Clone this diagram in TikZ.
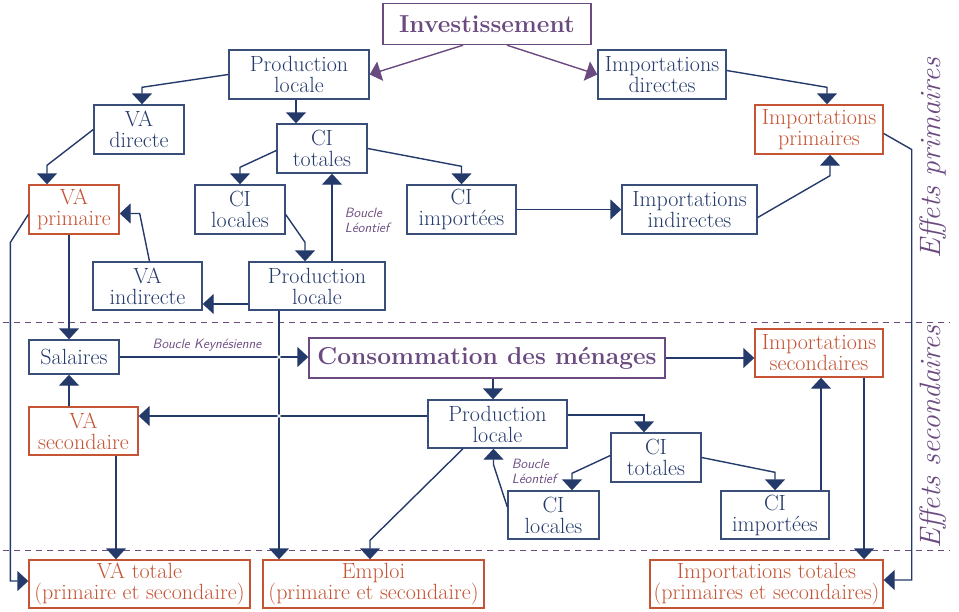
\documentclass[tikz,border=0pt]{standalone}
\usepackage{tikz}
\usetikzlibrary{positioning,arrows.meta}
\definecolor{effnavy}{RGB}{36,58,107}
\definecolor{effpurple}{RGB}{107,74,128}
\definecolor{efforange}{RGB}{196,84,52}

\begin{document}
\begin{tikzpicture}[x=1pt,y=-1pt,
  box/.style={draw=effnavy!90, line width=1.4pt, fill=white, align=center,
              inner sep=0pt, text=effnavy, minimum height=49pt,
              font=\fontsize{22}{21}\selectfont},
  prim/.style={box, draw=efforange, text=efforange},
  key/.style={box, draw=effpurple, text=effpurple, minimum height=41pt,
              font=\fontsize{24.5}{24}\selectfont\bfseries},
  arr/.style={-{Triangle[width=20pt,length=11pt]}, line width=1.4pt, effnavy},
  parr/.style={arr, effpurple},
  lbl/.style={font=\fontsize{13.5}{15}\selectfont\sffamily\itshape,
              text=effpurple, align=left, inner sep=0pt},
  side/.style={font=\fontsize{29.5}{30}\selectfont\itshape, text=effpurple,
               rotate=90, inner sep=0pt},
  sep/.style={effpurple, line width=1pt, dash pattern=on 6pt off 5pt}
]
\useasboundingbox (0,0) rectangle (959,611);

% separations
\draw[sep] (3,322) -- (950,322);
\draw[sep] (3,550) -- (950,550);
\node[side] (effA) at (933,158) {Effets primaires};
\node[side] (effB) at (933,437) {Effets secondaires};

% effets primaires
\node[key, minimum width=208pt] (inv)    at (487,24)    {Investissement};
\node[box, minimum width=140pt] (prodA)  at (299,74.5)  {Production\\locale};
\node[box, minimum width=128pt] (impdir) at (662,74.5)  {Importations\\directes};
\node[box, minimum width=90pt]  (vadir)  at (139,129.5) {VA\\directe};
\node[box, minimum width=90pt]  (citotA) at (322,148.5) {CI\\totales};
\node[prim, minimum width=128pt] (impprim) at (819,129.5) {Importations\\primaires};
\node[prim, minimum width=90pt] (vaprim) at (74,209.5)  {VA\\primaire};
\node[box, minimum width=90pt]  (cilocA) at (240,209.5) {CI\\locales};
\node[box, minimum width=109pt] (ciimpA) at (461.5,209.5) {CI\\importées};
\node[box, minimum width=135pt] (impind) at (689.5,209.5) {Importations\\indirectes};
\node[box, minimum width=109pt, minimum height=48pt] (vaind) at (147.5,286) {VA\\indirecte};
\node[box, minimum width=136pt, minimum height=48pt] (prodB) at (317,286) {Production\\locale};

% effets secondaires
\node[box, minimum width=90pt, minimum height=34pt] (salaires) at (74,357) {Salaires};
\node[key, minimum width=356pt, minimum height=40pt] (conso) at (487,358) {Consommation des ménages};
\node[prim, minimum width=128pt, minimum height=48pt] (impsec) at (819,353) {Importations\\secondaires};
\node[prim, minimum width=109pt, minimum height=48pt] (vasec) at (83.5,431) {VA\\secondaire};
\node[box, minimum width=139pt, minimum height=48pt] (prodC) at (497.5,424) {Production\\locale};
\node[box, minimum width=90pt]  (citotC) at (656,457.5) {CI\\totales};
\node[box, minimum width=91pt, minimum height=48pt]  (cilocC) at (553.5,515) {CI\\locales};
\node[box, minimum width=108pt, minimum height=48pt] (ciimpC) at (775,515) {CI\\importées};

% totaux
\node[prim, minimum width=221pt, minimum height=48pt] (vatot)  at (139.5,584) {VA totale\\(primaire et secondaire)};
\node[prim, minimum width=221pt, minimum height=48pt] (emploi) at (373.5,584) {Emploi\\(primaire et secondaire)};
\node[prim, minimum width=233pt, minimum height=48pt] (imptot) at (766.5,584) {Importations totales\\(primaires et secondaires)};

% connecteurs, effets primaires
\draw[parr] ([xshift=-24pt]inv.south) -- (prodA.east);
\draw[parr] ([xshift=20pt]inv.south) -- (impdir.west);
\draw[arr] (prodA.west) -- ([xshift=3pt,yshift=17pt]vadir.north) -- ([xshift=3pt]vadir.north);
\draw[arr] ([xshift=-3pt]prodA.south) -- ([xshift=-3pt]prodA.south |- citotA.north);
\draw[arr] ([yshift=4pt]impdir.east) -- ([xshift=8pt,yshift=17pt]impprim.north) -- ([xshift=8pt]impprim.north);
\draw[arr] (vadir.west) -- ([xshift=-27pt,yshift=19pt]vaprim.north) -- ([xshift=-27pt]vaprim.north);
\draw[arr] ([yshift=-2pt]citotA.west) -- ([yshift=17pt]cilocA.north) -- (cilocA.north);
\draw[arr] (citotA.east) -- ([yshift=18pt]ciimpA.north) -- (ciimpA.north);
\draw[arr] ([yshift=-5pt]cilocA.east) -- ([xshift=-12pt,yshift=19pt]prodB.north) -- ([xshift=-12pt]prodB.north);
\draw[arr] ([xshift=15pt]prodB.north) -- ([xshift=15pt]prodB.north |- citotA.south);
\draw[arr] (ciimpA.east) -- (impind.west);
\draw[arr] ([yshift=-8pt]impind.east) -- ([xshift=11pt,yshift=-21pt]impprim.south) -- ([xshift=11pt]impprim.south);
\draw[arr] ([yshift=-18pt]prodB.west) -- ([yshift=-18pt]vaind.east);
\draw[arr] ([xshift=2pt]vaind.north) -- ([xshift=20pt,yshift=-4pt]vaprim.east) -- ([yshift=-4pt]vaprim.east);
\draw[arr] ([xshift=-5pt]vaprim.south) -- ([xshift=-5pt]salaires.north);
\draw[arr] ([yshift=-5pt]vaprim.west) -- ([xshift=-18pt,yshift=-33pt]vaprim.west) |- ([yshift=3pt]vatot.west);
\draw[arr] ([xshift=-38pt]prodB.south) -- ([xshift=-38pt]prodB.south |- emploi.north);
\draw[arr] ([yshift=-4pt]impprim.east) -- ([xshift=28pt,yshift=-20pt]impprim.east) |- ([yshift=4pt]imptot.east);
\node[lbl] (leoA) at (367,220) {Boucle\\Léontief};

% connecteurs, effets secondaires
\draw[arr] (salaires.east) -- (salaires.east -| conso.west);
\node[lbl] (keyn) at (207,345) {Boucle Keynésienne};
\draw[arr] ([xshift=-14.5pt]vasec.north) -- ([xshift=-5pt]salaires.south);
\draw[arr] ([yshift=8pt]prodC.west) -- ([yshift=8pt]prodC.west -| vasec.east);
\draw[arr] ([xshift=32.5pt]vasec.south) -- ([xshift=32.5pt]vasec.south |- vatot.north);
\draw[arr] ([xshift=6pt]conso.south) -- ([xshift=6pt]conso.south |- prodC.north);
\draw[arr] (conso.east) -- (conso.east -| impsec.west);
\draw[arr] ([yshift=9pt]prodC.east) -| ([xshift=-12pt]citotC.north);
\draw[arr] ([yshift=2pt]citotC.west) -- ([xshift=18.5pt,yshift=17pt]cilocC.north) -- ([xshift=18.5pt]cilocC.north);
\draw[arr] (citotC.east) -- ([yshift=18pt]ciimpC.north) -- (ciimpC.north);
\draw[arr] ([yshift=8pt]cilocC.west) -- ([xshift=-4pt,yshift=-16pt]prodC.south) -- ([xshift=-4pt]prodC.south);
\node[lbl] (leoC) at (534,471) {Boucle\\Léontief};
\draw[arr] ([xshift=46pt]ciimpC.north) -- ([xshift=46pt]ciimpC.north |- impsec.south);
\draw[arr] ([xshift=45pt]impsec.south) -- ([xshift=45pt]impsec.south |- imptot.north);
\draw[arr] ([xshift=-34.5pt]prodC.south) -- ([xshift=-3.5pt,yshift=19pt]emploi.north) -- ([xshift=-3.5pt]emploi.north);

% croisements
\fill[white] ([xshift=-38pt]prodB.south |- salaires.east) circle (1.8pt);
\coordinate (vs) at ([yshift=8pt]prodC.west);
\fill[white] ([xshift=-38pt]prodB.south |- vs) circle (1.8pt);
\end{tikzpicture}
\end{document}
